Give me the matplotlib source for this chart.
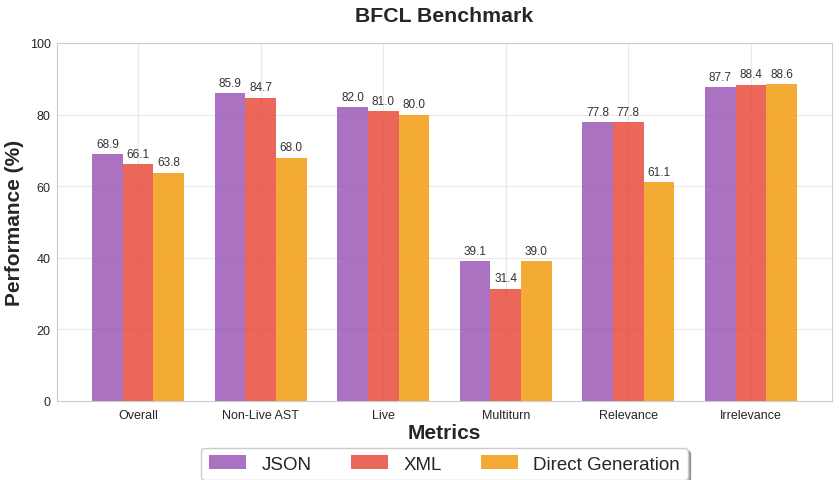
import matplotlib
matplotlib.use("Agg")
import matplotlib.pyplot as plt
import numpy as np
import seaborn as sns

sns.set_style("whitegrid")
plt.rcParams['font.family'] = ['Liberation Sans', 'DejaVu Sans']

categories = ["Overall", "Non-Live AST", "Live", "Multiturn", "Relevance", "Irrelevance"]
json_vals = [68.9, 85.9, 82.0, 39.1, 77.8, 87.7]
xml_vals = [66.1, 84.7, 81.0, 31.4, 77.8, 88.4]
direct_vals = [63.8, 68.0, 80.0, 39.0, 61.1, 88.6]
series_names = ["JSON", "XML", "Direct Generation"]
colors = ["#9b59b6", "#e74c3c", "#f39c12"]

fig = plt.figure(figsize=(8.39, 4.81), dpi=100)
ax = fig.add_axes([57/839, 1 - 402/481, 775/839, 358/481])

x = np.arange(len(categories))
w = 0.25
for i, (vals, name, c) in enumerate(zip([json_vals, xml_vals, direct_vals], series_names, colors)):
    bars = ax.bar(x + (i - 1) * w, vals, w, label=name, color=c, alpha=0.85, linewidth=0)
    for b, v in zip(bars, vals):
        ax.text(b.get_x() + b.get_width() / 2, v + 1.2, f"{v:.1f}", ha="center", va="bottom",
                fontsize=8.5, color="#333333")

ax.set_ylim(0, 100)
ax.set_xticks(x)
ax.set_xticklabels(categories, fontsize=9)
ax.tick_params(axis='y', labelsize=9, pad=1)
ax.tick_params(axis='x', pad=2)
ax.set_xlabel("Metrics", fontsize=15, fontweight="bold", labelpad=2)
ax.set_ylabel("Performance (%)", fontsize=15, fontweight="bold", labelpad=4)
ax.set_title("BFCL Benchmark", fontsize=15.3, fontweight="bold", pad=16)
ax.grid(True, alpha=0.4)
for s in ax.spines.values():
    s.set_color("#cccccc")

ax.legend(loc="upper center", bbox_to_anchor=(0.5, -0.105), ncol=3, fontsize=13.5,
          frameon=True, fancybox=True, shadow=True, handlelength=2.0,
          handletextpad=0.8, columnspacing=2.1)

fig.savefig("out.png", dpi=100)
